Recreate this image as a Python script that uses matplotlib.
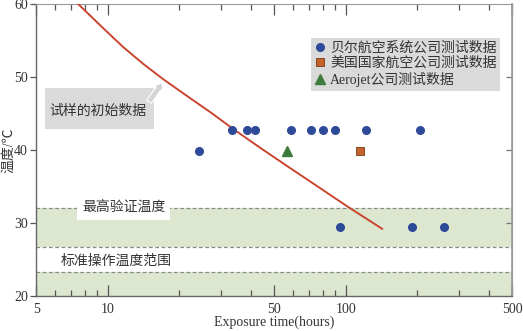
import matplotlib
matplotlib.use('Agg')
import matplotlib.pyplot as plt
from matplotlib.patches import Rectangle
from matplotlib.ticker import FixedLocator, NullFormatter

plt.rcParams['font.family'] = ['Liberation Serif', 'Noto Sans CJK SC']
plt.rcParams['font.size'] = 10

# data
curve_t = [7.51, 9.56, 11.61, 14.09, 17.09, 22.19, 26.92, 33.6, 43.7, 57.3,
           80.3, 102.3, 142.2]
curve_T = [60.0, 56.7, 54.1, 51.8, 49.7, 47.1, 45.2, 42.9, 40.3, 37.7,
           34.5, 32.2, 29.2]

bell_t = [24.2, 33.3, 38.6, 41.6, 58.9, 71.4, 80.3, 90.2, 121.8, 205.0, 94.7, 190.0, 259.0]
bell_T = [39.8, 42.8, 42.8, 42.8, 42.8, 42.8, 42.8, 42.8, 42.8, 42.8, 29.5, 29.5, 29.5]
nasa_t = [114.8]
nasa_T = [39.8]
aero_t = [56.8]
aero_T = [39.8]

band_max = (26.7, 32.0)   # 最高验证温度
band_std = (20.0, 23.3)   # 标准操作温度范围

fig = plt.figure(figsize=(5.23, 3.31), dpi=100)
ax = fig.add_axes([0.069, 0.106, 0.910, 0.882])
ax.set_xscale('log')
ax.set_xlim(5, 500)
ax.set_ylim(20, 60)

green = '#dde7cf'
dash = '#8a8a8a'
ax.axhspan(band_max[0], band_max[1], color=green, lw=0, zorder=0)
ax.axhspan(band_std[0], band_std[1], color=green, lw=0, zorder=0)
for yv in [band_max[1], band_max[0], band_std[1]]:
    ax.axhline(yv, color=dash, lw=0.9, ls=(0, (3, 2)), zorder=1)

ax.text(11.7, 32.0, '最高验证温度', ha='center', va='center', fontsize=10,
        color='#333333', zorder=2,
        bbox=dict(boxstyle='square,pad=0.35', fc='white', ec='none'))
ax.text(10.9, 24.7, '标准操作温度范围', ha='center', va='center', fontsize=10,
        color='#333333', zorder=2)

ax.plot(curve_t, curve_T, color='#c9452f', lw=1.4, zorder=3,
        solid_joinstyle='round')

ax.plot(bell_t, bell_T, 'o', color='#2e4a98', ms=5.5, ls='none', zorder=4,
        label='贝尔航空系统公司测试数据')
ax.plot(nasa_t, nasa_T, 's', color='#c4622c', mec='#7a3a18', mew=0.6, ms=6,
        ls='none', zorder=4, label='美国国家航空公司测试数据')
ax.plot(aero_t, aero_T, '^', color='#3d7a3d', ms=6.5, ls='none', zorder=4,
        label='Aerojet公司测试数据')

leg = ax.legend(loc='upper right', bbox_to_anchor=(0.975, 0.884), fontsize=10,
                frameon=True, fancybox=False, borderaxespad=0, borderpad=0.25,
                handlelength=0.8, handletextpad=0.3, labelspacing=0.15)
leg.get_frame().set_facecolor('#dadada')
leg.get_frame().set_edgecolor('none')
leg.get_frame().set_alpha(1)
for t in leg.get_texts():
    t.set_color('#333333')

# callout box with its pointer
ax.add_patch(Rectangle((0.019, 0.572), 0.229, 0.140, transform=ax.transAxes,
                       fc='#dadada', ec='none', zorder=5))
ax.text(9.06, 45.3, '试样的初始数据', ha='center', va='center', fontsize=10,
        color='#333333', zorder=6)
ax.annotate('', xy=(17.0, 49.2), xytext=(14.9, 46.6), zorder=5,
            arrowprops=dict(arrowstyle='simple,head_width=0.7,head_length=0.5,tail_width=0.4',
                            fc='#d4d4d4', ec='white', lw=0.8,
                            shrinkA=0, shrinkB=0))

# axes styling
ax.xaxis.set_major_locator(FixedLocator([5, 10, 50, 100, 500]))
ax.xaxis.set_minor_locator(FixedLocator([6, 7, 8, 9, 20, 30, 40, 60, 70, 80, 90,
                                         200, 300, 400]))
ax.set_xticklabels(['5', '10', '50', '100', '500'])
ax.xaxis.set_minor_formatter(NullFormatter())
ax.tick_params(axis='x', which='both', direction='in', top=True, colors='#555555',
               labelcolor='#333333', labelsize=10)
ax.tick_params(axis='x', which='major', length=8, width=0.9, pad=5)
ax.tick_params(axis='x', which='minor', length=4.5, width=0.9)
ax.set_yticks([20, 30, 40, 50, 60])
ax.tick_params(axis='y', direction='out', length=4, width=0.9, colors='#555555',
               labelcolor='#333333', labelsize=10, pad=2)
sec = ax.secondary_yaxis('right')
sec.set_yticks([30, 40, 50])
sec.tick_params(direction='in', length=4, width=0.9, colors='#777777',
                labelright=False)
sec.spines['right'].set_color('#999999')
sec.spines['right'].set_linewidth(1.2)

for s in ['left', 'bottom']:
    ax.spines[s].set_color('#666666')
    ax.spines[s].set_linewidth(1.0)
ax.spines['top'].set_color('#999999')
ax.spines['right'].set_color('#999999')

ax.set_xlabel('Exposure time(hours)', fontsize=10, color='#333333')
ax.xaxis.set_label_coords(0.5, -0.066)
ax.set_ylabel('温度/℃', fontsize=10, color='#333333')
ax.yaxis.set_label_coords(-0.058, 0.5)
ax.yaxis.label.set_va('center')

fig.savefig('out.png', dpi=100)
